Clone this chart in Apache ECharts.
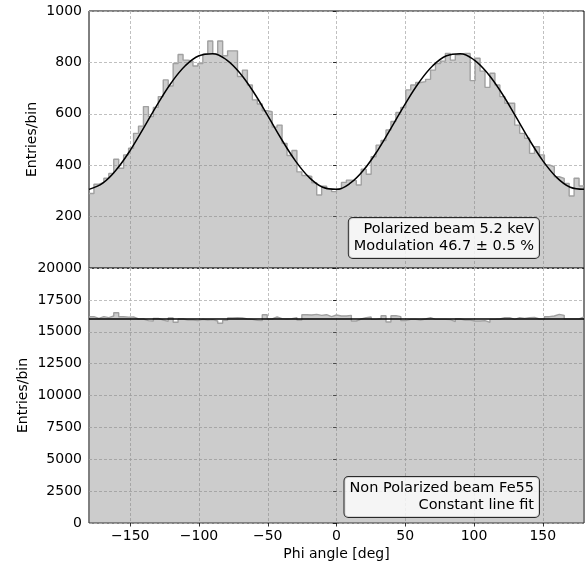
<!DOCTYPE html>
<html><head><meta charset="utf-8">
<script src="https://cdn.jsdelivr.net/npm/echarts@6/dist/echarts.min.js"></script>
<style>html,body{margin:0;padding:0;background:#fff}#c{width:587px;height:567px}</style>
</head><body><div id="c"></div>
<script>
// ---- data ----
const phiMin = -180, phiMax = 180, nBins = 100;
const xTicks = [-150, -100, -50, 0, 50, 100, 150];
const topYTicks = [0, 200, 400, 600, 800, 1000];
const bottomYTicks = [0, 2500, 5000, 7500, 10000, 12500, 15000, 17500, 20000];

// Polarized beam histogram (entries per 3.6 deg bin)
const polarizedCounts = [
  290, 326, 333, 349, 368, 423, 388, 440, 466, 524,
  552, 628, 589, 625, 667, 732, 708, 796, 831, 809,
  805, 786, 796, 833, 883, 833, 883, 826, 845, 845,
  745, 770, 712, 654, 638, 612, 608, 548, 556, 485,
  438, 457, 374, 360, 356, 332, 284, 318, 306, 297,
  307, 333, 342, 340, 323, 384, 365, 433, 478, 496,
  537, 570, 605, 625, 693, 712, 722, 725, 734, 770,
  796, 805, 835, 809, 830, 835, 835, 729, 816, 766,
  703, 758, 712, 667, 641, 641, 556, 524, 505, 446,
  472, 440, 401, 394, 355, 349, 329, 280, 349, 319
];

const fitPhi = [-180,-170,-160,-150,-140,-130,-120,-110,-100,-90,-80,-70,-60,-50,-40,-30,-20,-10,0,
                10,20,30,40,50,60,70,80,90,100,110,120,130,140,150,160,170,180];
const fitValues = [306,330,383,458,547,639,722,787,826,834,810,757,682,593,501,418,353,314,306,
                   330,383,458,547,639,722,787,826,834,810,757,682,593,501,418,353,314,306];

// Non polarized beam histogram
const unpolarizedCounts = [
  16182, 16052, 16182, 16104, 16234, 16494, 16182, 16150, 16156, 16000,
  16000, 15870, 15844, 16052, 15922, 15818, 16078, 15740, 16000, 15922,
  15922, 15870, 15974, 15922, 15948, 15844, 15662, 15896, 16078, 16104,
  16078, 16000, 15974, 15896, 15870, 16338, 16000, 16156, 16026, 16000,
  16026, 16104, 15922, 16338, 16312, 16364, 16286, 16338, 16182, 16312,
  16234, 16234, 16286, 15844, 16000, 16104, 16156, 15974, 16026, 16260,
  15766, 16260, 16182, 15870, 15974, 15974, 15922, 16000, 16104, 15974,
  15974, 15974, 15948, 15792, 16000, 15922, 15922, 15844, 15844, 15870,
  15740, 15974, 16000, 16104, 16104, 15974, 16104, 16052, 16104, 16130,
  16000, 16000, 16182, 16234, 16364, 16286, 16000, 16000, 16000, 16156
];
const constantFit = [16000];

const topBoxText = ['Polarized beam 5.2 keV', 'Modulation 46.7 \u00b1 0.5 %'];
const bottomBoxText = ['Non Polarized beam Fe55', 'Constant line fit'];

// ---- build ----
const binWidth = (phiMax - phiMin) / nBins;
function stepData(counts) {
  const d = counts.map((v, i) => [phiMin + i * binWidth, v]);
  d.push([phiMax, counts[counts.length - 1]]);
  return d;
}
const FONT = 'DejaVu Sans';
const minus = v => String(v).replace('-', '\u2212');
const gridLine = { show: true, lineStyle: { color: '#b0b0b0', width: 0.8, type: [3, 2] } };

function xAxisCfg(gi, showLabels) {
  return {
    type: 'value', gridIndex: gi, min: phiMin, max: phiMax,
    axisLine: { show: false },
    axisTick: { show: showLabels, customValues: xTicks, length: 3.5, lineStyle: { color: '#000', width: 0.8 } },
    axisLabel: { show: showLabels, customValues: xTicks, formatter: minus, margin: 6,
      color: '#000', fontFamily: FONT, fontSize: 14 },
    splitLine: gridLine,
    name: showLabels ? 'Phi angle [deg]' : '', nameLocation: 'middle', nameGap: 24,
    nameTextStyle: { color: '#000', fontFamily: FONT, fontSize: 14 }
  };
}
function yAxisCfg(gi, ticks, showMin, nameGap) {
  return {
    type: 'value', gridIndex: gi, min: ticks[0], max: ticks[ticks.length - 1],
    interval: ticks[1] - ticks[0],
    axisLine: { show: false },
    axisTick: { show: true, length: 3.5, lineStyle: { color: '#000', width: 0.8 } },
    axisLabel: { showMinLabel: showMin, margin: 7, color: '#000', fontFamily: FONT, fontSize: 14,
      formatter: v => String(v) },
    splitLine: gridLine,
    name: 'Entries/bin', nameLocation: 'middle', nameGap: nameGap, nameMoveOverlap: false,
    nameTextStyle: { color: '#000', fontFamily: FONT, fontSize: 14 }
  };
}
const histStyle = {
  type: 'line', step: 'end', showSymbol: false, silent: true,
  lineStyle: { color: '#a0a0a0', width: 1.4 },
  areaStyle: { color: 'rgba(128,128,128,0.4)', opacity: 1 }
};
function boxText(lines, x, y) {
  return {
    type: 'text', x: x, y: y, z: 100,
    style: {
      text: lines.join('\n'), align: 'right', verticalAlign: 'top',
      fontFamily: FONT, fontSize: 14.5, lineHeight: 17, fill: '#000',
      backgroundColor: 'rgba(255,255,255,0.8)', borderColor: 'rgba(0,0,0,0.8)',
      borderWidth: 1, borderRadius: 4, padding: [3, 5, 3, 5]
    }
  };
}

const chart = echarts.init(document.getElementById('c'), null, { renderer: 'canvas' });
chart.setOption({
  animation: false,
  backgroundColor: '#fff',
  grid: [
    { left: 89, right: 3, top: 11, height: 257, show: true, borderColor: '#000', borderWidth: 1, backgroundColor: 'transparent' },
    { left: 89, right: 3, top: 268, height: 255, show: true, borderColor: '#000', borderWidth: 1, backgroundColor: 'transparent' }
  ],
  xAxis: [xAxisCfg(0, false), xAxisCfg(1, true)],
  yAxis: [yAxisCfg(0, topYTicks, false, 50), yAxisCfg(1, bottomYTicks, true, 59)],
  series: [
    Object.assign({}, histStyle, { xAxisIndex: 0, yAxisIndex: 0, data: stepData(polarizedCounts) }),
    { type: 'line', xAxisIndex: 0, yAxisIndex: 0, smooth: 0.4, showSymbol: false, silent: true, z: 5,
      lineStyle: { color: '#000', width: 1.5 },
      data: fitPhi.map((p, i) => [p, fitValues[i]]) },
    Object.assign({}, histStyle, { xAxisIndex: 1, yAxisIndex: 1, data: stepData(unpolarizedCounts) }),
    { type: 'line', xAxisIndex: 1, yAxisIndex: 1, showSymbol: false, silent: true, z: 5,
      lineStyle: { color: '#000', width: 1.5 },
      data: [[phiMin, constantFit[0]], [phiMax, constantFit[0]]] }
  ],
  graphic: [
    boxText(topBoxText, 539, 218),
    boxText(bottomBoxText, 539, 477)
  ]
});
</script></body></html>
